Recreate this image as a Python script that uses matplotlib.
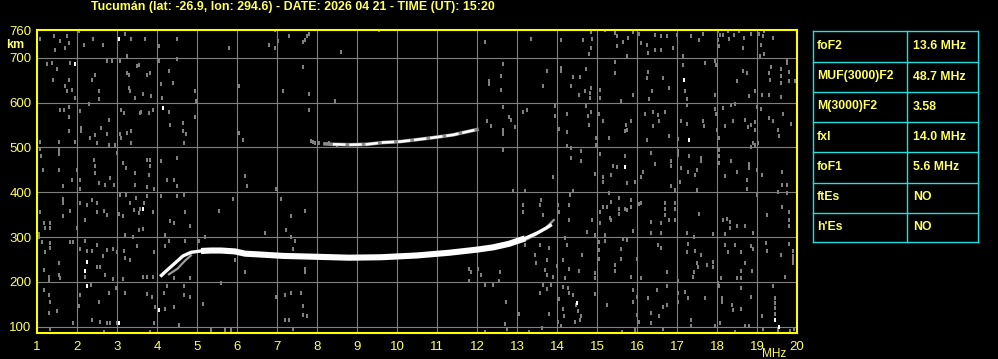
import numpy as np
import matplotlib
matplotlib.use("Agg")
import matplotlib.pyplot as plt

# ionogram header / parameters
title = "Tucumán (lat: -26.9, lon: 294.6) - DATE: 2026 04 21 - TIME (UT): 15:20"
param_names = ["foF2", "MUF(3000)F2", "M(3000)F2", "fxI", "foF1", "ftEs", "h'Es"]
param_values = ["13.6 MHz", "48.7 MHz", "3.58", "14.0 MHz", "5.6 MHz", "NO", "NO"]

x_ticks = list(range(1, 21))
y_ticks = [100, 200, 300, 400, 500, 600, 700, 760]

# ordinary F trace (MHz, km)
o_freq = [4.08, 4.2, 4.35, 4.5, 4.65, 4.85, 5.1, 5.35, 5.6, 5.95, 6.2, 6.6, 7.15,
          8.0, 8.8, 9.6, 10.5, 11.3, 12.0, 12.4, 12.8, 13.2, 13.5, 13.73, 13.87]
o_height = [212, 222, 234, 246, 258, 266, 269, 270, 270, 268, 263, 261, 258,
            256, 254, 255, 259, 265, 272, 277, 285, 297, 309, 320, 328]

# extraordinary branches
x_freq_low = [4.3, 4.42, 4.52, 4.6, 4.72, 4.85]
x_height_low = [217, 224, 230, 238, 249, 259]
x_freq_high = [13.2, 13.45, 13.7, 13.92]
x_height_high = [293, 304, 319, 338]

# second hop trace
f2_freq = [8.2, 8.4, 8.83, 9.25, 9.65, 10.08, 10.65, 11.08, 11.4, 11.7, 12.0]
f2_height = [508, 507, 506, 507, 511, 513, 519, 524, 528, 534, 540]

# background noise (MHz, km)
noise_low = [
    (1.08, 742), (1.42, 748), (1.58, 737), (1.75, 748), (1.79, 732), (1.46, 718), (1.71, 722),
    (2.04, 759), (2.17, 729), (2.4, 742), (2.65, 729), (3.21, 752), (3.25, 705), (3.35, 743),
    (3.71, 742), (4.04, 726), (4.5, 743), (1.25, 687), (1.375, 689), (1.5, 674), (1.83, 689),
    (1.4, 650), (1.79, 651), (1.71, 636), (1.75, 625), (1.875, 629), (1.96, 610), (2.375, 651),
    (2.46, 661), (2.54, 625), (2.54, 607), (2.75, 692), (2.875, 692), (3.08, 692), (3.25, 666),
    (3.29, 662), (3.5, 681), (3.54, 685), (3.29, 633), (3.33, 627), (3.46, 610), (3.65, 620),
    (3.75, 662), (3.83, 665), (3.85, 614), (4.04, 692), (4.1, 642), (4.125, 610), (4.29, 670),
    (4.4, 644), (4.5, 697), (1.58, 584), (1.68, 584), (1.79, 590), (1.79, 568), (1.79, 536),
    (1.08, 513), (1.54, 513), (1.96, 513), (2.07, 582), (2.1, 543), (2.1, 536), (2.29, 598),
    (2.33, 521), (2.46, 528), (2.5, 510), (2.6, 543), (2.75, 531), (2.79, 562), (2.79, 506),
    (2.96, 506), (3.1, 584), (3.18, 577), (3.08, 531), (3.1, 521), (3.25, 532), (3.35, 510),
    (3.35, 536), (3.58, 577), (3.6, 580), (3.79, 577), (3.9, 584), (4.29, 580), (4.33, 549),
    (4.65, 554), (4.65, 536), (4.67, 510), (4.73, 531), (1.08, 496), (1.1, 481), (1.15, 450),
    (1.54, 495), (1.54, 486), (1.54, 450), (1.65, 414), (1.875, 428), (2.08, 428), (2.0, 450),
    (2.08, 408), (2.46, 458), (2.46, 443), (2.43, 473), (2.54, 420), (2.71, 417), (2.83, 432),
    (2.92, 417), (3.0, 487), (3.15, 465), (3.23, 454), (3.46, 443), (3.46, 417), (3.75, 473),
    (3.83, 473), (3.83, 458), (3.79, 438), (3.75, 412), (3.92, 408), (4.1, 469), (4.25, 428),
    (4.43, 428), (4.5, 476), (4.5, 413), (1.08, 355), (1.17, 331), (1.33, 331), (1.33, 320),
    (1.21, 320), (1.04, 301), (1.04, 306), (1.65, 385), (1.65, 376), (1.65, 346), (1.83, 359),
    (2.0, 320), (2.08, 377), (2.21, 338), (2.25, 372), (2.375, 383), (2.5, 377), (2.5, 355),
    (2.67, 359), (2.75, 350), (3.04, 351), (3.08, 394), (3.23, 394), (3.15, 346), (3.33, 377),
    (3.42, 361), (3.48, 387), (3.54, 353), (3.58, 362), (3.67, 376), (3.75, 392), (3.9, 357),
    (3.54, 316), (3.65, 318), (3.21, 305), (3.4, 300), (4.1, 391), (4.21, 305), (4.33, 335),
    (4.42, 331), (4.5, 391), (4.67, 394), (4.71, 357), (1.125, 288), (1.21, 266), (1.33, 286),
    (1.33, 275), (1.54, 242), (1.18, 227), (1.29, 212), (1.29, 201), (1.54, 216), (1.58, 208),
    (1.83, 289), (1.9, 289), (2.08, 274), (2.21, 292), (2.25, 268), (2.21, 212), (2.375, 268),
    (2.5, 283), (2.5, 234), (2.58, 234), (2.64, 257), (2.75, 271), (2.71, 216), (2.9, 273),
    (2.9, 206), (3.0, 266), (3.17, 268), (3.15, 206), (3.21, 253), (3.33, 248), (3.5, 279),
    (3.65, 212), (3.75, 212), (3.9, 212), (3.93, 266), (4.21, 280), (4.29, 292), (4.42, 208),
    (4.71, 292), (1.17, 182), (1.29, 171), (1.33, 156), (1.29, 130), (1.5, 134), (1.9, 108),
    (2.08, 171), (2.35, 193), (2.04, 146), (2.375, 115), (2.54, 156), (2.58, 111), (2.75, 108),
    (2.83, 108), (2.79, 175), (2.98, 186), (3.0, 108), (3.21, 176), (3.75, 172), (3.875, 167),
    (3.96, 145), (3.92, 109), (4.17, 175), (4.25, 190), (4.21, 139), (4.43, 145), (4.54, 104),
    (4.67, 190), (4.67, 171), (1.33, 96), (2.67, 89), (3.83, 89),
]
noise_mid = [
    (6.95, 761), (7.3, 748), (7.76, 748), (7.8, 752), (7.7, 739), (7.65, 735), (5.8, 721),
    (6.8, 729), (7.03, 738), (6.95, 721), (8.59, 712), (7.65, 679), (6.05, 638), (4.95, 625),
    (7.15, 625), (7.8, 620), (8.45, 603), (4.98, 603), (4.95, 567), (7.8, 584), (6.05, 532),
    (6.15, 517), (7.84, 514), (7.95, 511), (8.3, 511), (8.5, 506), (6.2, 437), (6.26, 414),
    (6.98, 408), (5.9, 385), (7.09, 385), (5.55, 359), (7.7, 359), (7.34, 346), (4.82, 324),
    (6.7, 310), (7.23, 315), (7.34, 300), (5.2, 300), (5.05, 292), (7.45, 292), (7.4, 274),
    (5.95, 248), (6.2, 221), (7.7, 228), (7.7, 222), (5.59, 197), (4.82, 208), (6.98, 167),
    (7.2, 171), (7.34, 175), (7.59, 175), (5.15, 151), (7.65, 146), (7.65, 126), (7.76, 124),
    (7.2, 115), (7.3, 115), (7.4, 96), (5.34, 93), (5.7, 93), (5.84, 93), (4.82, 167),
    (9.54, 761), (8.6, 712), (12.2, 735), (12.31, 648), (12.31, 642), (12.25, 558), (12.35, 548),
    (11.79, 228), (12.03, 228), (11.85, 221), (12.1, 216), (11.79, 203), (12.2, 193),
    (12.39, 193), (12.2, 89), (7.9, 512), (8.05, 509),
]
noise_high = [
    (13.34, 743), (14.11, 739), (14.65, 739), (14.84, 757), (14.88, 743), (14.86, 721),
    (14.8, 709), (15.19, 761), (15.44, 756), (15.5, 748), (15.5, 726), (15.65, 735), (15.78, 744),
    (15.9, 757), (16.05, 752), (16.11, 733), (15.75, 703), (12.65, 687), (12.61, 660),
    (12.61, 629), (13.75, 670), (13.65, 636), (14.11, 677), (14.11, 670), (14.4, 657),
    (14.58, 657), (14.36, 638), (14.55, 616), (14.69, 625), (14.82, 621), (14.86, 633),
    (14.82, 610), (14.73, 674), (15.08, 629), (15.08, 610), (15.44, 690), (15.44, 666),
    (15.59, 604), (15.9, 616), (12.65, 590), (12.8, 568), (12.84, 562), (12.94, 545), (12.65, 540),
    (12.65, 531), (13.15, 578), (13.25, 584), (13.94, 593), (13.94, 571), (14.25, 575),
    (14.05, 541), (14.25, 534), (14.72, 593), (14.78, 571), (14.84, 580), (14.8, 549), (15.05, 575),
    (15.15, 558), (15.3, 522), (14.98, 521), (14.98, 506), (15.73, 549), (15.75, 540), (15.69, 536),
    (15.84, 558), (16.19, 575), (12.65, 495), (14.25, 504), (14.36, 499), (14.36, 476),
    (14.61, 491), (14.61, 469), (15.08, 486), (14.94, 441), (15.15, 435), (15.15, 424),
    (15.36, 439), (15.4, 459), (15.5, 456), (15.69, 482), (15.75, 420), (15.94, 422), (16.09, 433),
    (16.15, 446), (13.9, 435), (12.9, 403), (13.19, 403), (14.4, 403), (15.3, 398), (13.15, 372),
    (13.15, 355), (13.57, 372), (13.61, 382), (13.65, 350), (14.02, 372), (14.05, 357), (14.3, 372),
    (14.32, 394), (14.3, 337), (14.88, 337), (14.94, 305), (14.75, 312), (15.08, 355), (15.08, 331),
    (15.15, 368), (15.25, 368), (15.36, 379), (15.32, 342), (15.36, 337), (15.55, 387), (15.55, 362),
    (15.55, 351), (15.69, 362), (15.84, 383), (15.86, 368), (15.75, 361), (15.9, 314), (16.05, 374),
    (16.11, 376), (15.19, 305), (13.19, 283), (13.57, 283), (13.44, 260), (13.48, 242),
    (13.75, 248), (13.8, 275), (13.69, 227), (13.75, 216), (13.9, 212), (14.0, 236), (14.15, 248),
    (14.19, 298), (14.25, 283), (14.3, 229), (14.19, 208), (14.55, 225), (14.63, 260), (14.94, 219),
    (14.94, 208), (15.05, 290), (15.05, 271), (15.19, 292), (15.05, 251), (15.44, 238), (15.44, 225),
    (15.59, 251), (15.65, 295), (15.59, 273), (15.75, 294), (15.84, 210), (15.99, 251), (16.11, 208),
    (12.58, 221), (12.55, 201), (12.4, 195), (13.57, 176), (13.65, 193), (13.75, 184), (13.86, 193),
    (14.05, 161), (14.15, 188), (14.15, 139), (14.17, 124), (14.3, 175), (14.27, 186), (14.4, 171),
    (14.47, 149), (14.52, 134), (14.61, 124), (14.44, 111), (14.58, 116), (14.94, 173), (15.25, 149),
    (15.9, 182), (15.9, 156), (16.0, 167), (16.0, 126), (16.05, 111), (15.94, 93), (12.73, 156),
    (13.05, 128), (13.8, 128), (14.02, 111), (14.11, 102), (12.69, 106), (12.75, 94), (13.3, 89),
    (13.63, 98), (15.63, 89),
    (16.24, 729), (16.27, 711), (16.45, 750), (16.6, 748), (16.74, 748), (16.45, 717), (16.6, 717),
    (16.91, 721), (16.99, 750), (17.35, 748), (17.55, 739), (17.66, 754), (18.02, 759), (18.07, 750),
    (18.16, 750), (18.03, 739), (18.05, 726), (18.27, 759), (18.3, 742), (18.43, 750), (18.55, 759),
    (18.68, 744), (18.66, 722), (18.85, 752), (19.05, 752), (19.16, 748), (19.1, 729), (19.18, 759),
    (19.39, 744), (19.18, 709), (19.07, 705), (17.16, 703), (16.28, 668), (16.24, 655), (16.38, 625),
    (16.3, 607), (16.66, 655), (16.8, 633), (17.14, 685), (17.2, 625), (17.24, 608), (17.24, 595),
    (17.7, 688), (17.95, 692), (17.97, 683), (17.95, 616), (18.49, 648), (18.66, 670), (18.74, 666),
    (18.8, 614), (18.95, 625), (19.13, 616), (19.3, 616), (19.3, 666), (19.33, 651), (19.35, 680),
    (19.6, 675), (19.6, 659), (19.6, 644), (19.74, 696), (19.74, 689), (19.8, 668), (19.8, 648),
    (19.95, 648), (19.6, 612), (16.41, 578), (16.41, 547), (16.53, 573), (16.55, 558), (16.7, 580),
    (16.24, 517), (16.8, 525), (17.03, 519), (17.1, 558), (17.24, 553), (17.66, 558), (17.68, 548),
    (17.95, 586), (17.97, 575), (17.99, 540), (18.05, 522), (18.16, 588), (18.2, 547), (18.35, 595),
    (18.41, 558), (18.45, 598), (18.7, 562), (18.77, 545), (18.85, 551), (18.95, 556), (18.95, 540),
    (18.99, 590), (19.1, 586), (18.91, 510), (18.95, 506), (18.85, 502), (19.03, 510), (19.3, 566),
    (19.41, 558), (19.53, 538), (19.55, 526), (19.66, 575), (19.85, 553), (16.35, 487), (16.45, 463),
    (16.85, 469), (16.85, 458), (16.85, 413), (16.95, 405), (17.02, 493), (17.03, 483), (17.08, 424),
    (17.1, 454), (17.3, 481), (17.28, 446), (17.45, 439), (17.49, 450), (17.6, 476), (17.6, 469),
    (17.49, 405), (18.05, 495), (18.05, 481), (18.05, 465), (18.35, 469), (18.2, 437), (18.49, 446),
    (18.74, 428), (18.74, 407), (18.8, 463), (18.8, 454), (18.99, 450), (19.13, 438), (19.63, 446),
    (19.63, 417), (19.74, 417), (19.74, 398), (19.99, 428), (16.7, 376), (16.7, 363), (16.7, 350),
    (16.8, 337), (16.95, 377), (16.95, 362), (16.95, 337), (16.6, 331), (16.35, 333), (16.35, 309),
    (16.6, 309), (17.55, 352), (17.24, 310), (17.91, 307), (18.16, 337), (18.24, 340), (18.32, 333),
    (18.32, 320), (18.2, 307), (18.49, 324), (18.7, 324), (18.91, 310), (18.99, 394), (19.24, 350),
    (19.52, 400), (19.63, 368), (19.8, 355), (19.8, 338), (19.8, 324), (19.99, 355), (16.53, 283),
    (16.6, 275), (16.74, 221), (17.03, 203), (17.24, 266), (17.28, 285), (17.43, 300), (17.45, 270),
    (17.6, 260), (17.49, 242), (17.53, 233), (17.43, 221), (17.41, 212), (17.74, 238), (17.91, 245),
    (17.91, 234), (18.1, 208), (18.2, 283), (18.28, 266), (18.45, 283), (18.6, 266), (18.7, 243),
    (18.6, 225), (18.88, 225), (18.85, 280), (18.91, 273), (19.22, 286), (19.24, 268), (19.6, 260),
    (19.8, 285), (19.91, 268), (19.91, 242), (19.91, 250), (19.91, 258), (19.7, 210), (18.49, 208),
    (18.6, 208), (16.28, 163), (16.49, 181), (16.66, 145), (16.74, 149), (16.55, 124), (16.35, 131),
    (16.35, 109), (16.66, 94), (16.74, 190), (17.03, 176), (17.03, 156), (17.2, 178), (17.28, 163),
    (17.7, 163), (17.35, 115), (17.35, 102), (17.95, 102), (18.07, 108), (18.02, 197), (18.05, 190),
    (18.13, 163), (18.13, 156), (18.38, 149), (18.41, 137), (18.6, 186), (18.6, 139), (18.7, 102),
    (18.8, 102), (18.85, 167), (19.13, 124), (19.41, 190), (19.45, 163), (19.45, 154), (19.45, 141),
    (19.45, 128), (19.52, 93), (19.83, 91), (19.93, 96), (18.45, 89), (19.16, 96),
]
noise_white = [
    (3.04, 742), (1.94, 687), (4.15, 589), (3.65, 362), (2.25, 244), (2.21, 225), (2.25, 190),
    (3.04, 108), (4.04, 137), (15.69, 456), (14.5, 154), (17.18, 651), (17.3, 517), (19.45, 115),
    (19.55, 100),
]

YELLOW = "#ffff00"
TEXT = "#ffff66"
GRID = "#808080"
CYAN = "#22dede"

fig = plt.figure(figsize=(9.98, 3.59), dpi=100, facecolor="black")
ax = fig.add_axes([37 / 998, 26 / 359, 760 / 998, 303 / 359], facecolor="black")
ax.set_xlim(1, 20)
ax.set_ylim(86, 762)

for f in x_ticks[1:-1]:
    ax.axvline(f, color=GRID, lw=0.8, zorder=1)
for h in y_ticks[:-1]:
    ax.axhline(h, color=GRID, lw=0.8, zorder=1)

# noise pixels as small vertical boxes
box = [(-1, -1.6), (1, -1.6), (1, 1.6), (-1, 1.6), (-1, -1.6)]
gray_pts = np.array(noise_low + noise_mid + noise_high)
ax.scatter(gray_pts[:, 0], gray_pts[:, 1], marker=box, s=5, c="#808080", linewidths=0, zorder=2)
white_pts = np.array(noise_white)
ax.scatter(white_pts[:, 0], white_pts[:, 1], marker=box, s=5, c="white", linewidths=0, zorder=2)

# traces
ax.plot(x_freq_low, x_height_low, color="#9a9a9a", lw=1.6, zorder=3)
ax.plot(x_freq_high, x_height_high, color="#9a9a9a", lw=1.6, zorder=3)
ax.plot(o_freq, o_height, color="white", lw=2.4, solid_capstyle="butt", zorder=4)
ax.plot(o_freq[6:22], o_height[6:22], color="white", lw=4.4, solid_capstyle="butt", zorder=4)
ax.plot(f2_freq, f2_height, color="#8a8a8a", lw=2.6, zorder=3)
ax.plot(f2_freq[1:], f2_height[1:], color="white", lw=1.8, dashes=(5, 1.5), zorder=4)

for s in ax.spines.values():
    s.set_color(YELLOW)
    s.set_linewidth(1.5)

ax.set_xticks(x_ticks)
ax.set_xticklabels([str(v) for v in x_ticks])
ax.set_yticks(y_ticks)
ax.set_yticklabels([str(v) for v in y_ticks])
ax.tick_params(length=0, colors=TEXT, labelsize=9.5, pad=6)
for lab in ax.get_xticklabels() + ax.get_yticklabels():
    lab.set_family(["Liberation Sans Narrow", "Liberation Sans"])
    lab.set_color(TEXT)
ax.tick_params(axis="y", pad=4)

# overlay in pixel coordinates for title, units and the parameter table
ov = fig.add_axes([0, 0, 1, 1], facecolor="none")
ov.set_xlim(0, 998)
ov.set_ylim(359, 0)
ov.axis("off")

ov.text(91, 7, title, color=TEXT, fontsize=8.9, fontweight="bold",
        family=["Liberation Sans", "DejaVu Sans"], va="center", ha="left")
ov.text(6, 45, "km", color=TEXT, fontsize=9, fontweight="bold",
        family=["Liberation Sans", "DejaVu Sans"], va="center", ha="left")
ov.text(774, 354, "MHz", color=TEXT, fontsize=8.5,
        family=["Liberation Sans Narrow", "Liberation Sans"], va="center", ha="center")

t_left, t_mid, t_right = 813, 907, 978
row_edges = [31, 61.5, 91.5, 121.5, 152, 182.5, 212.5, 242]
for y in row_edges:
    ov.plot([t_left, t_right], [y, y], color=CYAN, lw=1)
for x in (t_left, t_mid, t_right):
    ov.plot([x, x], [row_edges[0], row_edges[-1]], color=CYAN, lw=1)
for i, (name, val) in enumerate(zip(param_names, param_values)):
    yc = (row_edges[i] + row_edges[i + 1]) / 2
    ov.text(817, yc, name, color=TEXT, fontsize=8.8, fontweight="bold",
            family=["Liberation Sans", "DejaVu Sans"], va="center", ha="left")
    ov.text(913, yc, val, color=TEXT, fontsize=8.8, fontweight="bold",
            family=["Liberation Sans", "DejaVu Sans"], va="center", ha="left")

fig.savefig("out.png", dpi=100, facecolor="black")
